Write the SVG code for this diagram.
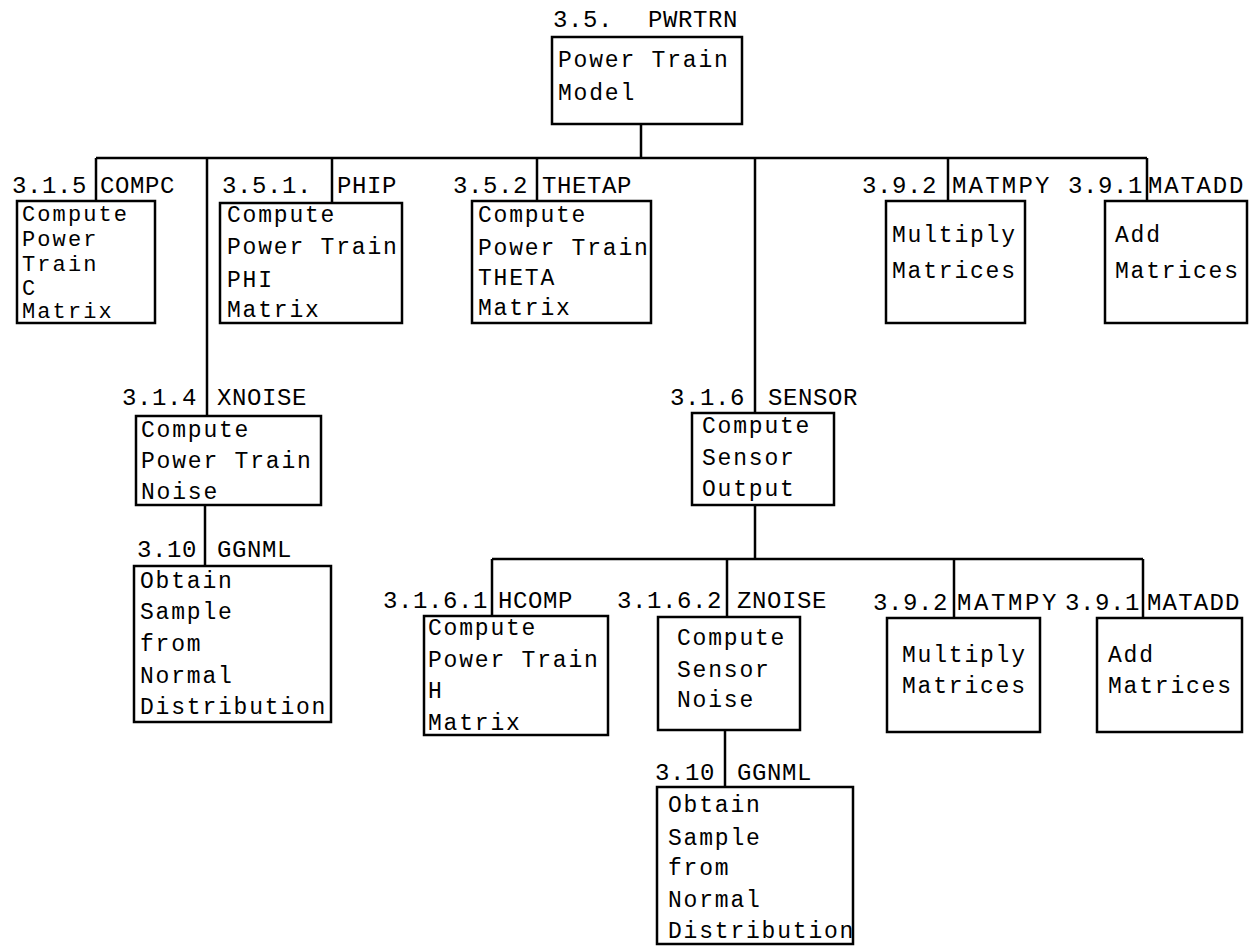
<svg xmlns="http://www.w3.org/2000/svg" width="1257" height="948" viewBox="0 0 1257 948">
<style>
.box{fill:#fff;stroke:#000;stroke-width:2.5}
.c{fill:none;stroke:#000;stroke-width:2.5}
text{font-family:"Liberation Mono","DejaVu Sans Mono",monospace;fill:#000}
.t{font-size:23px;letter-spacing:1.8px}
.s{font-size:22px;letter-spacing:2.1px}
.l{font-size:24px;letter-spacing:0.6px}
</style>
<rect width="1257" height="948" fill="#fff"/>
<g id="connectors">
<path class="c" d="M96,158H1147M641,124V158M96,158V201M207,158V416M332,158V203M537,158V201M755,158V413M948,158V201M1147,158V201"/>
<path class="c" d="M205,505V566"/>
<path class="c" d="M492,559H1143M755,505V559M492,559V616M727,559V617M954,559V618M1143,559V618"/>
<path class="c" d="M725,730V787"/>
</g>
<g id="pwrtrn">
<rect class="box" x="552" y="37" width="190" height="87"/>
<text class="l" x="553" y="27">3.5.</text><text class="l" x="648" y="27">PWRTRN</text>
<text class="t" x="558" y="67">Power Train</text><text class="t" x="558" y="100">Model</text>
</g>
<g id="compc">
<rect class="box" x="17" y="201" width="138" height="122"/>
<text class="l" x="12" y="193">3.1.5</text><text class="l" x="100" y="193">COMPC</text>
<text class="s" x="22" y="221">Compute</text><text class="s" x="22" y="246">Power</text><text class="s" x="22" y="271">Train</text><text class="s" x="22" y="295">C</text><text class="s" x="22" y="318">Matrix</text>
</g>
<g id="phip">
<rect class="box" x="220" y="203" width="182" height="120"/>
<text class="l" x="222" y="193">3.5.1.</text><text class="l" x="337" y="193">PHIP</text>
<text class="t" x="227" y="222">Compute</text><text class="t" x="227" y="254">Power Train</text><text class="t" x="227" y="287">PHI</text><text class="t" x="227" y="317">Matrix</text>
</g>
<g id="thetap">
<rect class="box" x="472" y="201" width="179" height="122"/>
<text class="l" x="453" y="193">3.5.2</text><text class="l" x="542" y="193">THETAP</text>
<text class="t" x="478" y="222">Compute</text><text class="t" x="478" y="255">Power Train</text><text class="t" x="478" y="285">THETA</text><text class="t" x="478" y="315">Matrix</text>
</g>
<g id="matmpy1">
<rect class="box" x="886" y="201" width="139" height="122"/>
<text class="l" x="862" y="193">3.9.2</text><text class="l" x="952" y="193" textLength="98">MATMPY</text>
<text class="t" x="892" y="242">Multiply</text><text class="t" x="892" y="278">Matrices</text>
</g>
<g id="matadd1">
<rect class="box" x="1105" y="201" width="142" height="122"/>
<text class="l" x="1068" y="193">3.9.1</text><text class="l" x="1148" y="193" textLength="96">MATADD</text>
<text class="t" x="1115" y="242">Add</text><text class="t" x="1115" y="278">Matrices</text>
</g>
<g id="xnoise">
<rect class="box" x="136" y="416" width="185" height="89"/>
<text class="l" x="122" y="405">3.1.4</text><text class="l" x="217" y="405">XNOISE</text>
<text class="t" x="141" y="437">Compute</text><text class="t" x="141" y="468">Power Train</text><text class="t" x="141" y="499">Noise</text>
</g>
<g id="ggnml1">
<rect class="box" x="134" y="566" width="197" height="156"/>
<text class="l" x="137" y="557">3.10</text><text class="l" x="217" y="557">GGNML</text>
<text class="t" x="140" y="588">Obtain</text><text class="t" x="140" y="619">Sample</text><text class="t" x="140" y="651">from</text><text class="t" x="140" y="683">Normal</text><text class="t" x="140" y="714">Distribution</text>
</g>
<g id="sensor">
<rect class="box" x="692" y="413" width="142" height="92"/>
<text class="l" x="670" y="405">3.1.6</text><text class="l" x="768" y="405">SENSOR</text>
<text class="t" x="702" y="433">Compute</text><text class="t" x="702" y="465">Sensor</text><text class="t" x="702" y="496">Output</text>
</g>
<g id="hcomp">
<rect class="box" x="424" y="616" width="184" height="119"/>
<text class="l" x="383" y="608">3.1.6.1</text><text class="l" x="498" y="608">HCOMP</text>
<text class="t" x="428" y="635">Compute</text><text class="t" x="428" y="667">Power Train</text><text class="t" x="428" y="698">H</text><text class="t" x="428" y="730">Matrix</text>
</g>
<g id="znoise">
<rect class="box" x="658" y="617" width="142" height="113"/>
<text class="l" x="617" y="608">3.1.6.2</text><text class="l" x="737" y="608">ZNOISE</text>
<text class="t" x="677" y="645">Compute</text><text class="t" x="677" y="677">Sensor</text><text class="t" x="677" y="707">Noise</text>
</g>
<g id="matmpy2">
<rect class="box" x="887" y="618" width="153" height="114"/>
<text class="l" x="873" y="610">3.9.2</text><text class="l" x="957" y="610" textLength="100">MATMPY</text>
<text class="t" x="902" y="662">Multiply</text><text class="t" x="902" y="693">Matrices</text>
</g>
<g id="matadd2">
<rect class="box" x="1097" y="618" width="145" height="114"/>
<text class="l" x="1065" y="610">3.9.1</text><text class="l" x="1147" y="610" textLength="93">MATADD</text>
<text class="t" x="1108" y="662">Add</text><text class="t" x="1108" y="693">Matrices</text>
</g>
<g id="ggnml2">
<rect class="box" x="657" y="787" width="196" height="157"/>
<text class="l" x="655" y="780">3.10</text><text class="l" x="737" y="780">GGNML</text>
<text class="t" x="668" y="812">Obtain</text><text class="t" x="668" y="845">Sample</text><text class="t" x="668" y="875">from</text><text class="t" x="668" y="907">Normal</text><text class="t" x="668" y="938">Distribution</text>
</g>
</svg>
